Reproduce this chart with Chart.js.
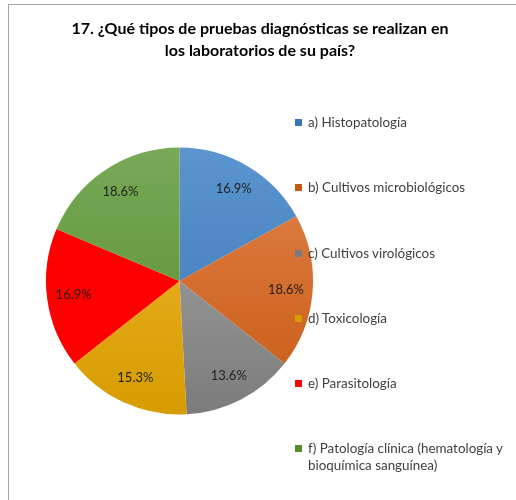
<!DOCTYPE html>
<html>
<head>
<meta charset="utf-8">
<script src="https://cdn.jsdelivr.net/npm/chart.js@4.4.0/dist/chart.umd.min.js"></script>
<style>
  body { margin: 0; background: #fff; }
  #wrap { position: relative; width: 516px; height: 500px; overflow: hidden; }
  #frame { position: absolute; left: 8px; top: 4px; width: 700px; height: 700px;
           border-left: 1px solid #a6a6a6; border-top: 1px solid #a6a6a6; }
  #myChart { position: absolute; left: 0; top: 0; }
  #title { position: absolute; left: 4px; top: 17px; width: 512px; text-align: center;
           font-family: Lato, sans-serif; font-weight: bold; font-size: 16px;
           line-height: 22px; color: #000; }
  #legend { position: absolute; left: 295px; top: 114px; font-family: Lato, sans-serif;
            font-size: 13.4px; color: #404040; line-height: 17px; }
  #legend .item { display: flex; align-items: flex-start; margin-bottom: 48.3px; }
  #legend .box { width: 7px; height: 7px; margin: 5px 6px 0 0; flex: none; }
</style>
</head>
<body>
<div id="wrap">
  <div id="frame"></div>
  <canvas id="myChart" width="516" height="500"></canvas>
  <div id="title"></div>
  <div id="legend"></div>
</div>
<script>
"use strict";
var titleLines = [
    "17. ¿Qué tipos de pruebas diagnósticas se realizan en",
    "los laboratorios de su país?",
];
var tipoLabels = [
    "a) Histopatología",
    "b) Cultivos microbiológicos",
    "c) Cultivos virológicos",
    "d) Toxicología",
    "e) Parasitología",
    ["f) Patología clínica (hematología y", "bioquímica sanguínea)"],
];
// respuestas por tipo (59 en total)
var respuestas = [10, 11, 8, 9, 10, 11];

var colorTop = ["#5b95cf", "#e3834c", "#a8a8a8", "#f2b733", "#ff0000", "#77a957"];
var colorBottom = ["#3a75b5", "#c65a12", "#7c7c7c", "#d69c00", "#ff0000", "#578c2b"];

function sliceColor(context) {
    var chart = context.chart;
    var area = chart.chartArea;
    var i = context.dataIndex;
    if (!area) {
        return colorTop[i];
    }
    var g = chart.ctx.createLinearGradient(0, area.top, 0, area.bottom);
    g.addColorStop(0, colorTop[i]);
    g.addColorStop(1, colorBottom[i]);
    return g;
}

var percentLabels = {
    id: "percentLabels",
    afterDatasetsDraw: function (chart) {
        var ctx = chart.ctx;
        var meta = chart.getDatasetMeta(0);
        var values = chart.data.datasets[0].data;
        var total = values.reduce(function (a, b) { return a + b; }, 0);
        ctx.save();
        ctx.font = "13px Lato";
        ctx.fillStyle = "#1f1f1f";
        ctx.textAlign = "center";
        ctx.textBaseline = "middle";
        meta.data.forEach(function (arc, i) {
            var p = arc.getProps(["x", "y", "startAngle", "endAngle", "outerRadius"], true);
            var mid = (p.startAngle + p.endAngle) / 2;
            var r = p.outerRadius * 0.8;
            var txt = ((values[i] / total) * 100).toFixed(1) + "%";
            ctx.fillText(txt, p.x + Math.cos(mid) * r, p.y + Math.sin(mid) * r);
        });
        ctx.restore();
    },
};

document.getElementById("title").innerHTML = titleLines.join("<br>");

var ctx = document.getElementById("myChart").getContext("2d");
var myChart = new Chart(ctx, {
    type: "pie",
    data: {
        labels: tipoLabels,
        datasets: [
            {
                data: respuestas,
                backgroundColor: sliceColor,
                borderWidth: 0,
            },
        ],
    },
    options: {
        responsive: false,
        animation: false,
        layout: {
            padding: { left: 46, right: 203, top: 147.5, bottom: 85.5 },
        },
        plugins: {
            legend: { display: false },
            tooltip: { enabled: false },
            title: { display: false },
        },
    },
    plugins: [percentLabels],
});

var legendEl = document.getElementById("legend");
tipoLabels.forEach(function (label, i) {
    var item = document.createElement("div");
    item.className = "item";
    var box = document.createElement("span");
    box.className = "box";
    box.style.background = colorTop[i] === "#ff0000" ? "#ff0000" : colorBottom[i];
    var text = document.createElement("span");
    text.innerHTML = Array.isArray(label) ? label.join("<br>") : label;
    item.appendChild(box);
    item.appendChild(text);
    legendEl.appendChild(item);
});
</script>
</body>
</html>
